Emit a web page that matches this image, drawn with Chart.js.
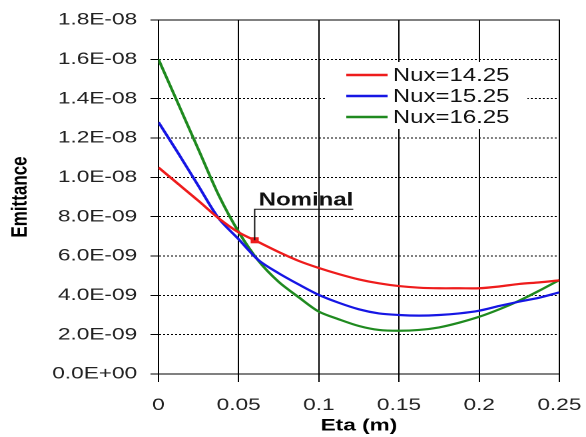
<!DOCTYPE html>
<html>
<head>
<meta charset="utf-8">
<script src="https://cdn.jsdelivr.net/npm/chart.js@4"></script>
<style>
  html, body { margin: 0; padding: 0; background: #fff; overflow: hidden; }
  /* the original picture is stretched sideways, so the chart is drawn narrow and widened */
  #wrap { position: relative; width: 440px; height: 437px; transform: scaleX(1.3318); transform-origin: 0 0; }
</style>
</head>
<body>
<div id="wrap"><canvas id="myChart"></canvas></div>
<script>
var eta = [0, 0.0125, 0.025, 0.0375, 0.05, 0.0625, 0.075, 0.0875, 0.1, 0.1125, 0.125,
           0.1375, 0.15, 0.1625, 0.175, 0.1875, 0.2, 0.2125, 0.225, 0.2375, 0.25];

var nux1425 = [10.5e-9, 9.65e-9, 8.8e-9, 7.92e-9, 7.2e-9, 6.7e-9, 6.2e-9, 5.75e-9, 5.39e-9, 5.08e-9, 4.81e-9,
               4.61e-9, 4.47e-9, 4.39e-9, 4.36e-9, 4.36e-9, 4.36e-9, 4.45e-9, 4.58e-9, 4.66e-9, 4.76e-9];
var nux1525 = [12.8e-9, 11.2e-9, 9.55e-9, 7.92e-9, 6.85e-9, 5.78e-9, 5.12e-9, 4.55e-9, 4.02e-9, 3.62e-9, 3.29e-9,
               3.08e-9, 3.0e-9, 2.97e-9, 3.0e-9, 3.08e-9, 3.22e-9, 3.46e-9, 3.68e-9, 3.88e-9, 4.15e-9];
var nux1625 = [16.0e-9, 13.7e-9, 11.4e-9, 9.1e-9, 7.22e-9, 5.74e-9, 4.68e-9, 3.9e-9, 3.17e-9, 2.78e-9, 2.44e-9,
               2.24e-9, 2.2e-9, 2.24e-9, 2.37e-9, 2.61e-9, 2.91e-9, 3.29e-9, 3.73e-9, 4.24e-9, 4.78e-9];

var seriesNames = ['Nux=14.25', 'Nux=15.25', 'Nux=16.25'];
var seriesColors = ['#ee1c1c', '#1616e4', '#1f8a1f'];

var nominalEta = [0.06];
var nominalEmit = [6.8e-9];
var nominalLabel = 'Nominal';

var xTicks = [0, 0.05, 0.1, 0.15, 0.2, 0.25];
var yTicks = [0, 2e-9, 4e-9, 6e-9, 8e-9, 1.0e-8, 1.2e-8, 1.4e-8, 1.6e-8, 1.8e-8];

var FONT = "Arial, 'Liberation Sans', sans-serif";
Chart.defaults.font.family = FONT;
Chart.defaults.color = '#111';

function sci(v) {
  if (v === 0) return '0.0E+00';
  var parts = v.toExponential(1).split('e');
  var n = parseInt(parts[1], 10);
  return parts[0] + 'E' + (n < 0 ? '-' : '+') + String(Math.abs(n)).padStart(2, '0');
}

function pts(ys) {
  return eta.map(function(x, i) { return {x: x, y: ys[i]}; });
}

function noOverhang(s) {
  s.paddingLeft = 0;
  s.paddingRight = 0;
  s.paddingTop = 0;
  s.paddingBottom = 0;
}

var allSeries = [nux1425, nux1525, nux1625];
var datasets = allSeries.map(function(ys, i) {
  return {
    label: seriesNames[i],
    data: pts(ys),
    borderColor: seriesColors[i],
    backgroundColor: 'transparent',
    borderWidth: 2.2,
    pointRadius: 0,
    tension: 0.3
  };
});
datasets.push({
  label: nominalLabel,
  data: [{x: nominalEta[0], y: nominalEmit[0]}],
  showLine: false,
  pointStyle: 'rect',
  pointRadius: 4.3,
  backgroundColor: seriesColors[0],
  borderColor: seriesColors[0],
  borderWidth: 0
});

// frame round the plot area
var frame = {
  id: 'frame',
  beforeDatasetsDraw: function(chart) {
    var a = chart.chartArea, ctx = chart.ctx;
    ctx.save();
    ctx.strokeStyle = '#000';
    ctx.lineWidth = 1;
    ctx.strokeRect(a.left, a.top, a.right - a.left, a.bottom - a.top);
    ctx.restore();
  }
};

// legend box inside the plot and the "Nominal" callout
var extras = {
  id: 'extras',
  afterDatasetsDraw: function(chart) {
    var ctx = chart.ctx;
    var sx = chart.scales.x, sy = chart.scales.y;

    var px = sx.getPixelForValue(nominalEta[0]);
    var py = sy.getPixelForValue(nominalEmit[0]);
    ctx.save();
    ctx.strokeStyle = '#111';
    ctx.lineWidth = 1;
    ctx.beginPath();
    ctx.moveTo(px, py);
    ctx.lineTo(px, py - 31);
    ctx.lineTo(px + 74, py - 31);
    ctx.stroke();
    ctx.fillStyle = '#111';
    ctx.font = 'bold 18px ' + FONT;
    ctx.textBaseline = 'alphabetic';
    ctx.textAlign = 'left';
    ctx.fillText(nominalLabel, px + 3, py - 35);
    ctx.restore();

    ctx.save();
    ctx.fillStyle = '#fff';
    ctx.fillRect(245, 62, 151, 67);
    ctx.font = '18px ' + FONT;
    ctx.textBaseline = 'middle';
    ctx.textAlign = 'left';
    for (var i = 0; i < seriesNames.length; i++) {
      var ly = 75 + i * 21;
      ctx.strokeStyle = seriesColors[i];
      ctx.lineWidth = 2.5;
      ctx.beginPath();
      ctx.moveTo(260, ly);
      ctx.lineTo(291, ly);
      ctx.stroke();
      ctx.fillStyle = '#111';
      ctx.fillText(seriesNames[i], 295, ly + 1);
    }
    ctx.restore();
  }
};

var ctx = document.getElementById('myChart').getContext('2d');

var chart = new Chart(ctx, {
  type: 'line',
  data: { datasets: datasets },
  options: {
    responsive: true,
    maintainAspectRatio: false,
    devicePixelRatio: 2,
    animation: false,
    layout: { padding: { top: 20, right: 20, left: 0, bottom: 0 } },
    plugins: {
      legend: { display: false },
      tooltip: { enabled: false }
    },
    scales: {
      x: {
        type: 'linear',
        min: 0,
        max: 0.25,
        afterFit: function(s) { s.height = 63; noOverhang(s); },
        afterBuildTicks: function(s) { s.ticks = xTicks.map(function(v) { return {value: v}; }); },
        ticks: {
          font: { size: 17 },
          color: '#222',
          padding: 13,
          maxRotation: 0,
          callback: function(v) { return String(v); }
        },
        grid: { color: '#000', lineWidth: 1, tickLength: 8, tickColor: '#000' },
        border: { display: true, color: '#000' },
        title: {
          display: true,
          text: 'Eta (m)',
          font: { size: 17, weight: 'bold' },
          color: '#000',
          padding: { top: 0, bottom: 1 }
        }
      },
      y: {
        min: 0,
        max: 1.8e-8,
        afterFit: function(s) { s.width = 119; noOverhang(s); },
        afterBuildTicks: function(s) { s.ticks = yTicks.map(function(v) { return {value: v}; }); },
        ticks: {
          font: { size: 17 },
          color: '#222',
          padding: 10,
          callback: function(v) { return sci(v); }
        },
        grid: { color: '#000', lineWidth: 1, tickLength: 6, tickColor: '#000', tickBorderDash: [] },
        border: { display: true, color: '#000', dash: [1.5, 1.5] },
        title: {
          display: true,
          text: 'Emittance',
          font: { size: 17, weight: 'bold' },
          color: '#000',
          padding: { top: 5, bottom: 0 }
        }
      }
    }
  },
  plugins: [frame, extras]
});
</script>
</body>
</html>
